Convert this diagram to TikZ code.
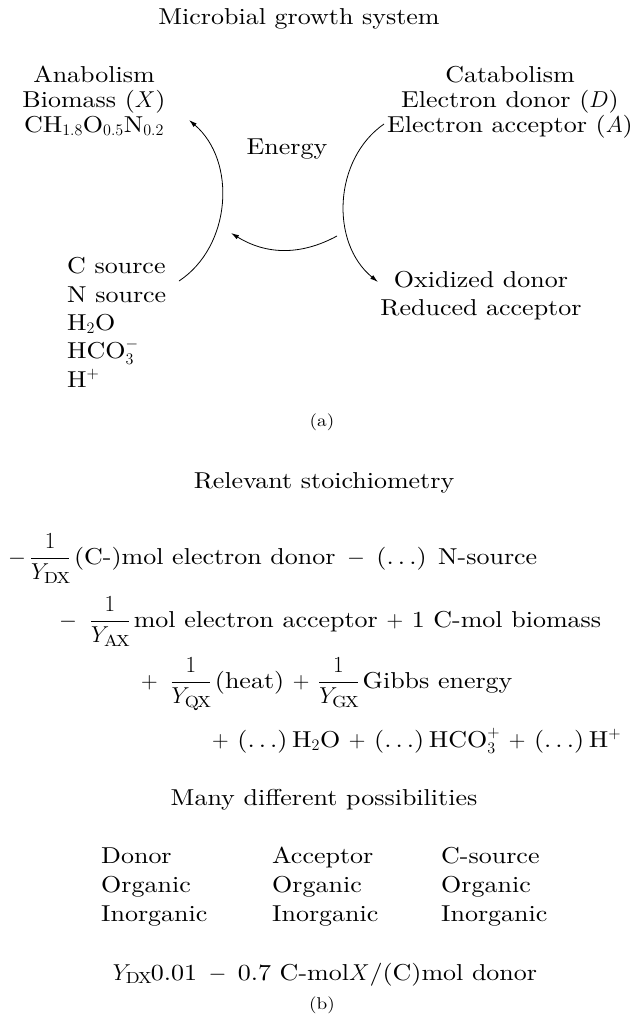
\RequirePackage{fix-cm}
\documentclass[tikz,border=0pt]{standalone}
\usepackage{amsmath}
\usepackage{fontspec}
\setmainfont{lmroman10-regular.otf}[ItalicFont=lmroman10-italic.otf, BoldFont=lmroman10-bold.otf, FakeStretch=1.13]
\usetikzlibrary{arrows.meta}
\newcommand{\dotsp}{(.\kern0.18em.\kern0.18em.)}
\tikzset{
  txt/.style={font=\fontsize{23}{28}\selectfont, inner sep=0pt, anchor=base},
  txtl/.style={txt, anchor=base west},
  lbl/.style={font=\fontsize{17}{20}\selectfont, inner sep=0pt, anchor=base},
  conn/.style={draw, line width=0.8pt, -{Latex[length=8pt,width=4.6pt]}},
}
\begin{document}
\begin{tikzpicture}[x=1pt,y=-1pt]
\useasboundingbox (0,0) rectangle (638,1018);
% ---- part (a)
\node[txt] (title) at (299,24) {Microbial growth system};
\node[txt] (ana1) at (94,82) {Anabolism};
\node[txt] (ana2) at (94,107) {Biomass ($X$)};
\node[txt] (ana3) at (94,132) {CH$_{1.8}$O$_{0.5}$N$_{0.2}$};
\node[txt] (cat1) at (510,82) {Catabolism};
\node[txt] (cat2) at (510,107) {Electron donor ($D$)};
\node[txt] (cat3) at (510,132) {Electron acceptor ($A$)};
\node[txt] (energy) at (287,154) {Energy};
\node[txtl] (src1) at (67,273) {C source};
\node[txtl] (src2) at (67,302) {N source};
\node[txtl] (src3) at (67,330) {H$_2$O};
\node[txtl] (src4) at (67,358) {HCO$_3^-$};
\node[txtl] (src5) at (67,387) {H$^+$};
\node[txt] (ox1) at (481,287) {Oxidized donor};
\node[txt] (ox2) at (481,315) {Reduced acceptor};
\node[lbl] (laba) at (322,426) {(a)};
\coordinate (lA) at (179,281);
\coordinate (lB) at (189,120);
\coordinate (rA) at (384,124);
\coordinate (rB) at (378,282);
\coordinate (mA) at (337,236);
\coordinate (mB) at (231,233);
\draw[conn] (lA) to[bend right=53] (lB);
\draw[conn] (rA) to[bend right=53] (rB);
\draw[conn] (mA) to[bend left=30] (mB);
% ---- part (b)
\node[txt] (stoich) at (324,488) {Relevant stoichiometry};
\node[txtl] (eq1) at (8,564) {$-\,\dfrac{1}{Y_{\mathrm{DX}}}$\,(C-)mol electron donor\enspace$-$\enspace\dotsp{} N-source};
\node[txtl] (eq2) at (59,627) {$-\;\;\dfrac{1}{Y_{\mathrm{AX}}}$\,mol electron acceptor $+$ 1 C-mol biomass};
\node[txtl] (eq3) at (141,688) {$+\;\;\dfrac{1}{Y_{\mathrm{QX}}}$\,(heat) $+$ $\dfrac{1}{Y_{\mathrm{GX}}}$\,Gibbs energy};
\node[txtl] (eq4) at (212,747) {$+$ \dotsp\hspace{0.2em}H$_2$O $+$ \dotsp\hspace{0.2em}HCO$_3^+$ $+$ \dotsp\hspace{0.2em}H$^+$};
\node[txt] (many) at (324,805) {Many different possibilities};
\node[txtl] (t11) at (101,863) {Donor};
\node[txtl] (t21) at (101,892) {Organic};
\node[txtl] (t31) at (101,921) {Inorganic};
\node[txtl] (t12) at (272,863) {Acceptor};
\node[txtl] (t22) at (272,892) {Organic};
\node[txtl] (t32) at (272,921) {Inorganic};
\node[txtl] (t13) at (441,863) {C-source};
\node[txtl] (t23) at (441,892) {Organic};
\node[txtl] (t33) at (441,921) {Inorganic};
\node[txt] (ydx) at (325,980) {$Y_{\mathrm{DX}}$0.01\enspace$-$\enspace0.7 C-mol$X$/(C)mol donor};
\node[lbl] (labb) at (322,1009) {(b)};
\end{tikzpicture}
\end{document}
